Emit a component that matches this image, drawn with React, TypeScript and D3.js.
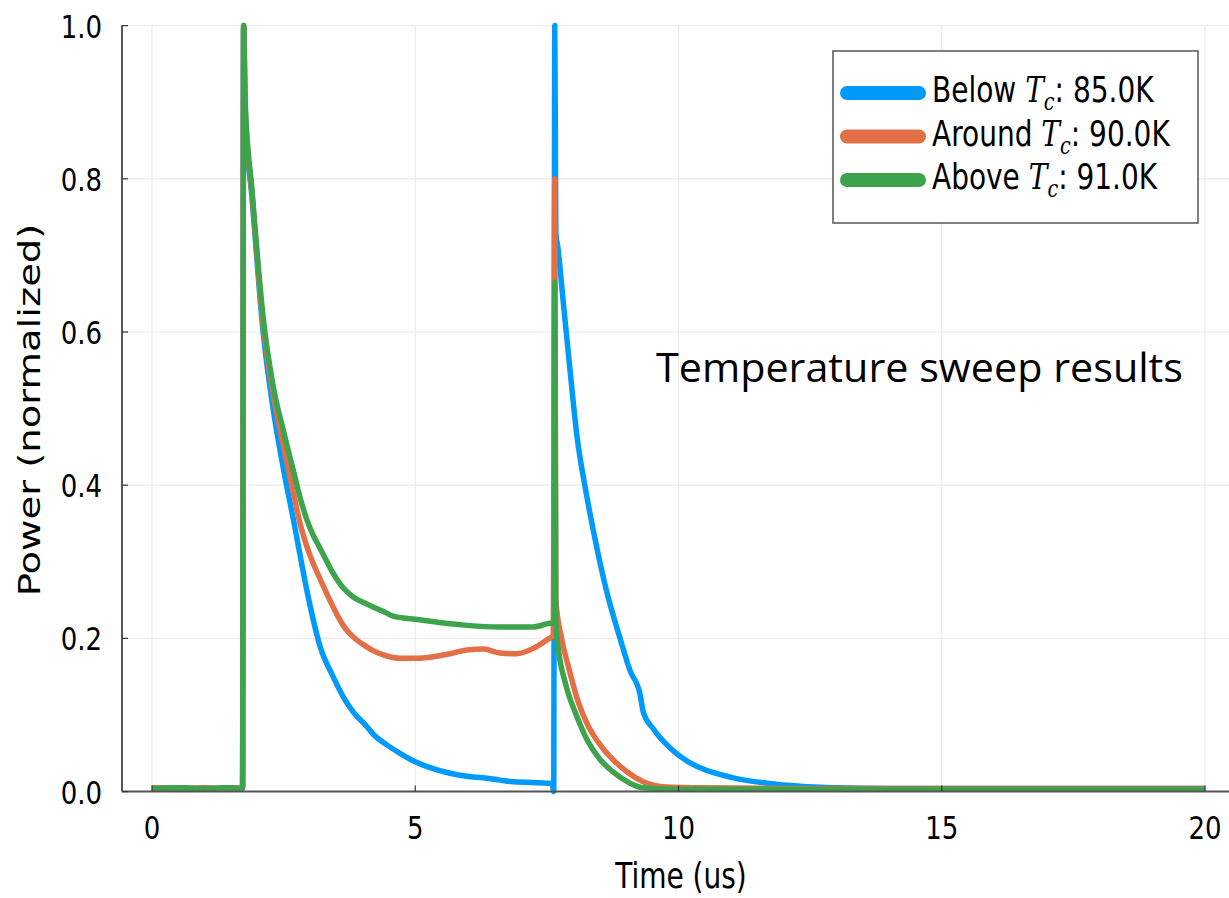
import React from "react";
import * as d3 from "d3";

const xTicks = [0, 5, 10, 15, 20];
const yTicks = [0.0, 0.2, 0.4, 0.6, 0.8, 1.0];

const blueData: [number, number][] = [
  [0, 0.004], [0.5, 0.005], [1.0, 0.004], [1.5, 0.005], [1.72, 0.004], [1.74, 1.0], [1.77, 0.88],
  [1.9, 0.775], [2.11, 0.6], [2.3, 0.5], [2.5, 0.42], [2.7, 0.35], [2.82, 0.306], [2.94, 0.263],
  [3.06, 0.225], [3.19, 0.19], [3.44, 0.15], [3.63, 0.124], [3.82, 0.104], [4.08, 0.085], [4.2, 0.075],
  [4.46, 0.061], [4.71, 0.05], [5.0, 0.039], [5.34, 0.03], [5.66, 0.024], [5.98, 0.02], [6.29, 0.018],
  [6.61, 0.015], [6.93, 0.0125], [7.24, 0.012], [7.5, 0.011], [7.6, 0.011], [7.63, 0.0], [7.65, 1.0],
  [7.67, 0.73], [7.71, 0.71], [7.81, 0.64], [7.94, 0.55], [8.07, 0.465], [8.26, 0.385], [8.45, 0.318],
  [8.64, 0.26], [8.89, 0.2], [9.08, 0.158], [9.27, 0.127], [9.33, 0.104], [9.52, 0.082], [9.84, 0.057],
  [10.16, 0.04], [10.41, 0.031], [11.04, 0.018], [11.68, 0.011], [12.31, 0.007], [13, 0.005],
  [14, 0.004], [16, 0.004], [18, 0.004], [20, 0.004],
];

const orangeData: [number, number][] = [
  [0, 0.005], [0.5, 0.004], [1.0, 0.005], [1.5, 0.004], [1.72, 0.005], [1.74, 1.0], [1.77, 0.89],
  [1.9, 0.78], [2.11, 0.61], [2.3, 0.52], [2.5, 0.45], [2.7, 0.385], [2.82, 0.348], [2.94, 0.32],
  [3.06, 0.298], [3.19, 0.278], [3.44, 0.241], [3.63, 0.217], [3.82, 0.202], [4.08, 0.189], [4.2, 0.184],
  [4.46, 0.177], [4.71, 0.174], [5.0, 0.174], [5.34, 0.176], [5.66, 0.18], [5.98, 0.185], [6.29, 0.186],
  [6.61, 0.181], [6.93, 0.18], [7.24, 0.187], [7.5, 0.198], [7.62, 0.204], [7.65, 0.8], [7.67, 0.25],
  [7.78, 0.2], [7.91, 0.163], [8.1, 0.116], [8.29, 0.085], [8.48, 0.064], [8.75, 0.042], [9.02, 0.026],
  [9.33, 0.013], [9.78, 0.006], [10.41, 0.005], [12, 0.004], [14, 0.004], [16, 0.004], [18, 0.004],
  [20, 0.004],
];

const greenData: [number, number][] = [
  [0, 0.004], [0.5, 0.005], [1.0, 0.004], [1.5, 0.005], [1.72, 0.004], [1.74, 1.0], [1.77, 0.9],
  [1.9, 0.785], [2.11, 0.62], [2.3, 0.53], [2.5, 0.47], [2.7, 0.415], [2.82, 0.382], [2.94, 0.355],
  [3.06, 0.335], [3.19, 0.318], [3.44, 0.285], [3.63, 0.266], [3.82, 0.254], [4.08, 0.245], [4.2, 0.241],
  [4.46, 0.233], [4.58, 0.229], [5.0, 0.225], [5.22, 0.223], [5.66, 0.219], [5.98, 0.217], [6.61, 0.215],
  [7.24, 0.215], [7.6, 0.22], [7.64, 0.22], [7.65, 0.665], [7.67, 0.22], [7.72, 0.185], [7.85, 0.142],
  [8.07, 0.098], [8.26, 0.068], [8.51, 0.042], [8.75, 0.026], [9.08, 0.011], [9.33, 0.005], [10, 0.003],
  [12, 0.003], [14, 0.003], [16, 0.003], [18, 0.003], [20, 0.003],
];

const seriesNames = ["Below", "Around", "Above"];
const seriesTemps = ["85.0K", "90.0K", "91.0K"];
const seriesColors = ["#009AFA", "#E26F46", "#3DA44D"];
const seriesData = [blueData, orangeData, greenData];

const SQ = 0.8; // horizontal squash of the original picture

export default function App() {
  const x = d3.scaleLinear().domain([0, 20]).range([152, 1205]);
  const y = d3.scaleLinear().domain([0, 1]).range([791.6, 25.6]);
  const left = 122;
  const right = 1229;
  const line = d3
    .line<[number, number]>()
    .x((d) => x(d[0]))
    .y((d) => y(d[1]))
    .curve(d3.curveMonotoneX);
  const font = "'DejaVu Sans', sans-serif";

  return (
    <svg
      width={1229}
      height={898}
      style={{ position: "absolute", left: 0, top: 0, display: "block", background: "#fff" }}
    >
      <rect x={0} y={0} width={1229} height={898} fill="#fff" />
      {/* grid */}
      {xTicks.map((t) => (
        <line key={"gx" + t} x1={x(t)} x2={x(t)} y1={y(1)} y2={y(0)} stroke="#ececec" strokeWidth={1.2} />
      ))}
      {yTicks.map((t) => (
        <line key={"gy" + t} x1={left} x2={right} y1={y(t)} y2={y(t)} stroke="#ececec" strokeWidth={1.2} />
      ))}
      {/* series */}
      {seriesData.map((d, i) => (
        <path
          key={"s" + i}
          d={line(d) || ""}
          fill="none"
          stroke={seriesColors[i]}
          strokeWidth={5.5}
          strokeLinejoin="round"
        />
      ))}
      {/* axes */}
      <line x1={left} x2={left} y1={y(1)} y2={y(0)} stroke="#555" strokeWidth={2} />
      <line x1={left} x2={right} y1={y(0)} y2={y(0)} stroke="#555" strokeWidth={2} />
      {xTicks.map((t) => (
        <line key={"tx" + t} x1={x(t)} x2={x(t)} y1={y(0)} y2={y(0) - 6} stroke="#333" strokeWidth={1.2} />
      ))}
      {yTicks.map((t) => (
        <line key={"ty" + t} x1={left} x2={left + 6} y1={y(t)} y2={y(t)} stroke="#333" strokeWidth={1.2} />
      ))}
      {/* tick labels */}
      {xTicks.map((t) => (
        <g key={"lx" + t} transform={`translate(${x(t)},839) scale(${SQ},1)`}>
          <text textAnchor="middle" fontFamily={font} fontSize={32.5} fill="#000">
            {String(t)}
          </text>
        </g>
      ))}
      {yTicks.map((t) => (
        <g key={"ly" + t} transform={`translate(102,${y(t) + 12}) scale(${SQ},1)`}>
          <text textAnchor="end" fontFamily={font} fontSize={32.5} fill="#000">
            {d3.format(".1f")(t)}
          </text>
        </g>
      ))}
      {/* axis labels */}
      <g transform={`translate(681,888) scale(${SQ},1)`}>
        <text textAnchor="middle" fontFamily={font} fontSize={35} fill="#000">
          Time (us)
        </text>
      </g>
      <g transform={`translate(40,410) scale(${SQ},1) rotate(-90)`}>
        <text textAnchor="middle" fontFamily={font} fontSize={38.5} fill="#000">
          Power (normalized)
        </text>
      </g>
      {/* legend */}
      <rect x={833} y={51} width={365} height={172} fill="#fff" stroke="#555" strokeWidth={1.5} />
      {seriesNames.map((n, i) => {
        const cy = 93 + i * 43.5;
        return (
          <g key={"lg" + i}>
            <line x1={847} x2={919} y1={cy} y2={cy} stroke={seriesColors[i]} strokeWidth={14} strokeLinecap="round" />
            <g transform={`translate(932,${cy + 9}) scale(${SQ},1)`}>
              <text fontFamily={font} fontSize={35} fill="#000">
                {n + " "}
                <tspan fontFamily="'DejaVu Serif', serif" fontStyle="italic">T</tspan>
                <tspan fontFamily="'DejaVu Serif', serif" fontStyle="italic" fontSize={24} dy={8}>c</tspan>
                <tspan dy={-8}>{": " + seriesTemps[i]}</tspan>
              </text>
            </g>
          </g>
        );
      })}
      {/* annotation */}
      <text x={656} y={382} fontFamily="'Open Sans', sans-serif" fontSize={41} fill="#000" textLength={527} lengthAdjust="spacingAndGlyphs">
        Temperature sweep results
      </text>
    </svg>
  );
}
